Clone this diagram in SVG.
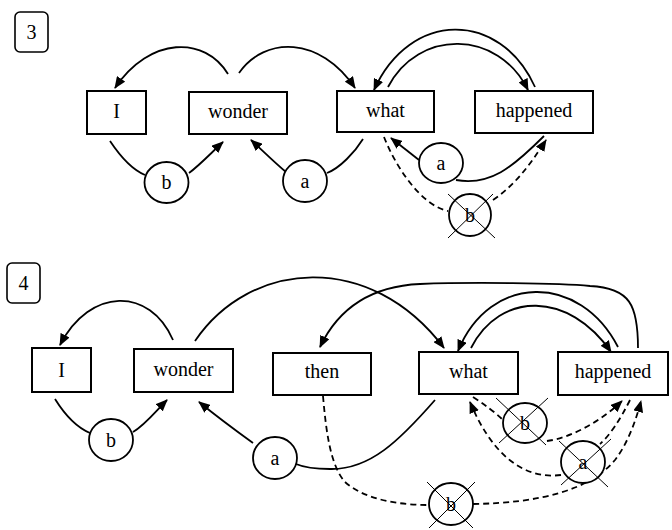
<svg xmlns="http://www.w3.org/2000/svg" width="672" height="530" viewBox="0 0 672 530">
<style>
.box{fill:#fff;stroke:#000;stroke-width:2}
.lbl{fill:#fff;stroke:#000;stroke-width:1.6}
.circ{fill:#fff;stroke:#000;stroke-width:1.8}
.t{font-family:'Liberation Serif','DejaVu Serif',serif;font-size:20px;fill:#000;text-anchor:middle}
.e{fill:none;stroke:#000;stroke-width:1.8}
.d{fill:none;stroke:#000;stroke-width:1.8;stroke-dasharray:6 4}
.x{stroke:#000;stroke-width:1}
</style>
<defs>
<marker id="ah" viewBox="0 0 12 10" refX="11" refY="5" markerWidth="12" markerHeight="10" markerUnits="userSpaceOnUse" orient="auto">
<path d="M0,0 L12,5 L0,10 z" fill="#000"/>
</marker>
</defs>
<g id="connectors">
<path class="e" d="M228,74 C205,36 150,36 115,88" marker-end="url(#ah)"/>
<path class="e" d="M239,73 C265,36 320,36 355,88" marker-end="url(#ah)"/>
<path class="e" d="M535,87 C500,10 410,10 374,90" marker-end="url(#ah)"/>
<path class="e" d="M388,87 C418,29 498,29 528,90" marker-end="url(#ah)"/>
<path class="e" d="M110,141 C120,156 133,170 145,175"/>
<path class="e" d="M189,173 C200,165 212,152 223,142" marker-end="url(#ah)"/>
<path class="e" d="M286,172 C275,163 262,150 251,140" marker-end="url(#ah)"/>
<path class="e" d="M363,139 C355,152 340,168 327,173"/>
<path class="e" d="M419,160 L391,138" marker-end="url(#ah)"/>
<path class="e" d="M544,136 C512,168 490,186 456,180"/>
<path class="d" d="M384,137 C395,165 420,205 448,211"/>
<path class="d" d="M493,200 C515,185 530,165 546,140" marker-end="url(#ah)"/>
<path class="e" d="M173,340 C150,287 90,287 60,345" marker-end="url(#ah)"/>
<path class="e" d="M195,341 C250,260 370,250 444,348" marker-end="url(#ah)"/>
<path class="e" d="M638,348 C638,305 630,288 590,286 C560,283 470,282 420,284 C375,286 340,305 320,347" marker-end="url(#ah)"/>
<path class="e" d="M618,347 C580,273 490,273 458,351" marker-end="url(#ah)"/>
<path class="e" d="M471,348 C500,291 569,291 611,352" marker-end="url(#ah)"/>
<path class="e" d="M55,399 C65,415 78,428 90,433"/>
<path class="e" d="M133,432 C145,425 155,412 167,400" marker-end="url(#ah)"/>
<path class="e" d="M253,443 C235,430 215,415 199,402" marker-end="url(#ah)"/>
<path class="e" d="M435,400 C400,440 370,470 330,469 C315,469 303,467 296,464"/>
<path class="d" d="M323,396 C326,430 330,465 345,482 C365,500 400,505 429,505"/>
<path class="d" d="M473,504 C540,503 590,490 615,460 C628,443 636,420 641,401" marker-end="url(#ah)"/>
<path class="d" d="M473,397 C485,405 495,412 503,420"/>
<path class="d" d="M547,441 C570,438 600,422 622,401" marker-end="url(#ah)"/>
<path class="d" d="M561,475 C520,480 490,450 470,402" marker-end="url(#ah)"/>
<path class="d" d="M630,400 C620,420 610,435 600,444"/>
</g>
<g id="label3"><rect class="lbl" x="15" y="12" width="33" height="40" rx="5"/><text class="t" x="31.5" y="39">3</text></g>
<g id="p3-I"><rect class="box" x="87" y="91" width="59" height="43"/><text class="t" x="116.5" y="118">I</text></g>
<g id="p3-wonder"><rect class="box" x="189" y="92" width="98" height="42"/><text class="t" x="238" y="118">wonder</text></g>
<g id="p3-what"><rect class="box" x="337" y="91" width="97" height="41"/><text class="t" x="385.5" y="117">what</text></g>
<g id="p3-happened"><rect class="box" x="475" y="91" width="118" height="42"/><text class="t" x="534" y="117">happened</text></g>
<g id="p3-b"><ellipse class="circ" cx="166.5" cy="182.5" rx="22" ry="20.5"/><text class="t" x="166.5" y="189">b</text></g>
<g id="p3-a"><ellipse class="circ" cx="305" cy="181" rx="22" ry="21"/><text class="t" x="305" y="188">a</text></g>
<g id="p3-a2"><ellipse class="circ" cx="441" cy="163" rx="22" ry="20"/><text class="t" x="441" y="170">a</text></g>
<g id="p3-bx"><ellipse class="circ" cx="470" cy="215" rx="21" ry="21"/><text class="t" x="470" y="222">b</text><line class="x" x1="448" y1="194" x2="495" y2="238"/><line class="x" x1="493" y1="194" x2="448" y2="238"/></g>
<g id="label4"><rect class="lbl" x="7" y="263" width="33" height="40" rx="5"/><text class="t" x="23.5" y="290">4</text></g>
<g id="p4-I"><rect class="box" x="32" y="348" width="59" height="44"/><text class="t" x="61.5" y="377">I</text></g>
<g id="p4-wonder"><rect class="box" x="134" y="349" width="99" height="43"/><text class="t" x="183.5" y="376">wonder</text></g>
<g id="p4-then"><rect class="box" x="273" y="353" width="98" height="42"/><text class="t" x="322" y="378">then</text></g>
<g id="p4-what"><rect class="box" x="419" y="352" width="99" height="42"/><text class="t" x="468.5" y="378">what</text></g>
<g id="p4-happened"><rect class="box" x="558" y="352" width="110" height="43"/><text class="t" x="613" y="378">happened</text></g>
<g id="p4-b"><ellipse class="circ" cx="111" cy="440" rx="22" ry="21"/><text class="t" x="111" y="447">b</text></g>
<g id="p4-a"><ellipse class="circ" cx="275" cy="458" rx="22" ry="21"/><text class="t" x="275" y="465">a</text></g>
<g id="p4-bx1"><ellipse class="circ" cx="525" cy="423" rx="22" ry="20"/><text class="t" x="525" y="430">b</text><line class="x" x1="496" y1="398" x2="546" y2="445"/><line class="x" x1="548" y1="398" x2="499" y2="443"/></g>
<g id="p4-ax"><ellipse class="circ" cx="583" cy="462" rx="22" ry="21"/><text class="t" x="583" y="469">a</text><line class="x" x1="559" y1="441" x2="608" y2="487"/><line class="x" x1="611" y1="439" x2="561" y2="485"/></g>
<g id="p4-bx2"><ellipse class="circ" cx="451" cy="504" rx="22" ry="21"/><text class="t" x="451" y="511">b</text><line class="x" x1="427" y1="482" x2="473" y2="528"/><line class="x" x1="475" y1="482" x2="429" y2="528"/></g>
</svg>
